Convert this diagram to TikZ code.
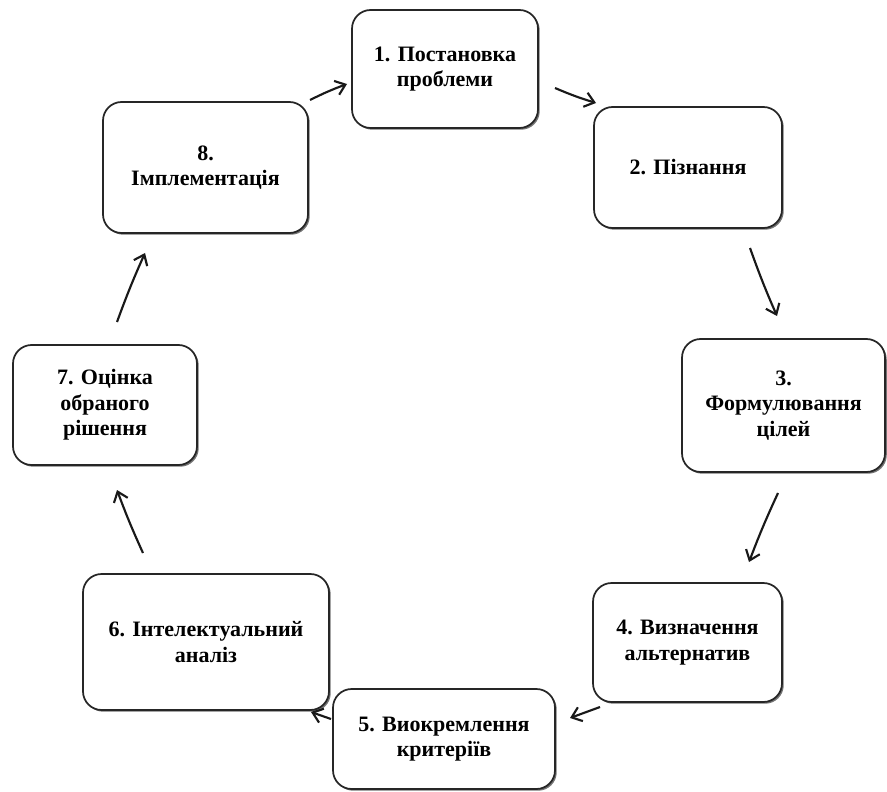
\documentclass[tikz,border=0pt]{standalone}
\usepackage{fontspec}
\setmainfont{Liberation Serif}
\usetikzlibrary{arrows.meta,shadows}
\begin{document}
\begin{tikzpicture}[x=0.75pt,y=-0.75pt,
  stage/.style={draw=black!85, line width=1.3pt, rounded corners=14pt, fill=white,
    drop shadow={shadow xshift=1.3pt, shadow yshift=-1.3pt, fill=black!55, opacity=1},
    align=center, inner sep=0pt, font=\bfseries\fontsize{16.5}{19}\selectfont},
  flow/.style={line width=1.6pt, black!90, -{Straight Barb[length=7pt,width=11pt,line width=1.6pt]}}]
\useasboundingbox (0,0) rectangle (887,791);
% boxes (centre, size in px)
\node[stage, minimum width=186*0.75pt, minimum height=118*0.75pt] (n1) at (445,69) {1. Постановка\\проблеми};
\node[stage, minimum width=188*0.75pt, minimum height=121*0.75pt] (n2) at (688,167.5) {2. Пізнання};
\node[stage, minimum width=203*0.75pt, minimum height=133*0.75pt] (n3) at (783.5,405.5) {3.\\Формулювання\\цілей};
\node[stage, minimum width=189*0.75pt, minimum height=119*0.75pt] (n4) at (687.5,642.5) {4. Визначення\\альтернатив};
\node[stage, minimum width=222*0.75pt, minimum height=100*0.75pt] (n5) at (444,739) {5. Виокремлення\\критеріїв};
\node[stage, minimum width=246*0.75pt, minimum height=136*0.75pt] (n6) at (206,642) {6. Інтелектуальний\\аналіз};
\node[stage, minimum width=184*0.75pt, minimum height=120*0.75pt] (n7) at (105,405) {7. Оцінка\\обраного\\рішення};
\node[stage, minimum width=205*0.75pt, minimum height=131*0.75pt] (n8) at (205.5,167.5) {8.\\Імплементація};
% arrow ends
\coordinate (a81s) at (310,100); \coordinate (a81e) at (347,84);
\coordinate (a12s) at (555,88);  \coordinate (a12e) at (596,103);
\coordinate (a23s) at (750,248); \coordinate (a23e) at (777,316);
\coordinate (a34s) at (778,493); \coordinate (a34e) at (749,562);
\coordinate (a45s) at (600,707); \coordinate (a45e) at (570,718);
\coordinate (a56s) at (331,719); \coordinate (a56e) at (311,712);
\coordinate (a67s) at (143,553); \coordinate (a67e) at (117,490);
\coordinate (a78s) at (117,322); \coordinate (a78e) at (145,253);
\draw[flow] (a81s) to[bend left=3] (a81e);
\draw[flow] (a12s) to[bend right=3] (a12e);
\draw[flow] (a23s) to[bend right=2] (a23e);
\draw[flow] (a34s) to[bend right=2] (a34e);
\draw[flow] (a45s) to (a45e);
\draw[flow] (a56s) to (a56e);
\draw[flow] (a67s) to[bend left=2] (a67e);
\draw[flow] (a78s) to[bend left=2] (a78e);
\end{tikzpicture}
\end{document}
